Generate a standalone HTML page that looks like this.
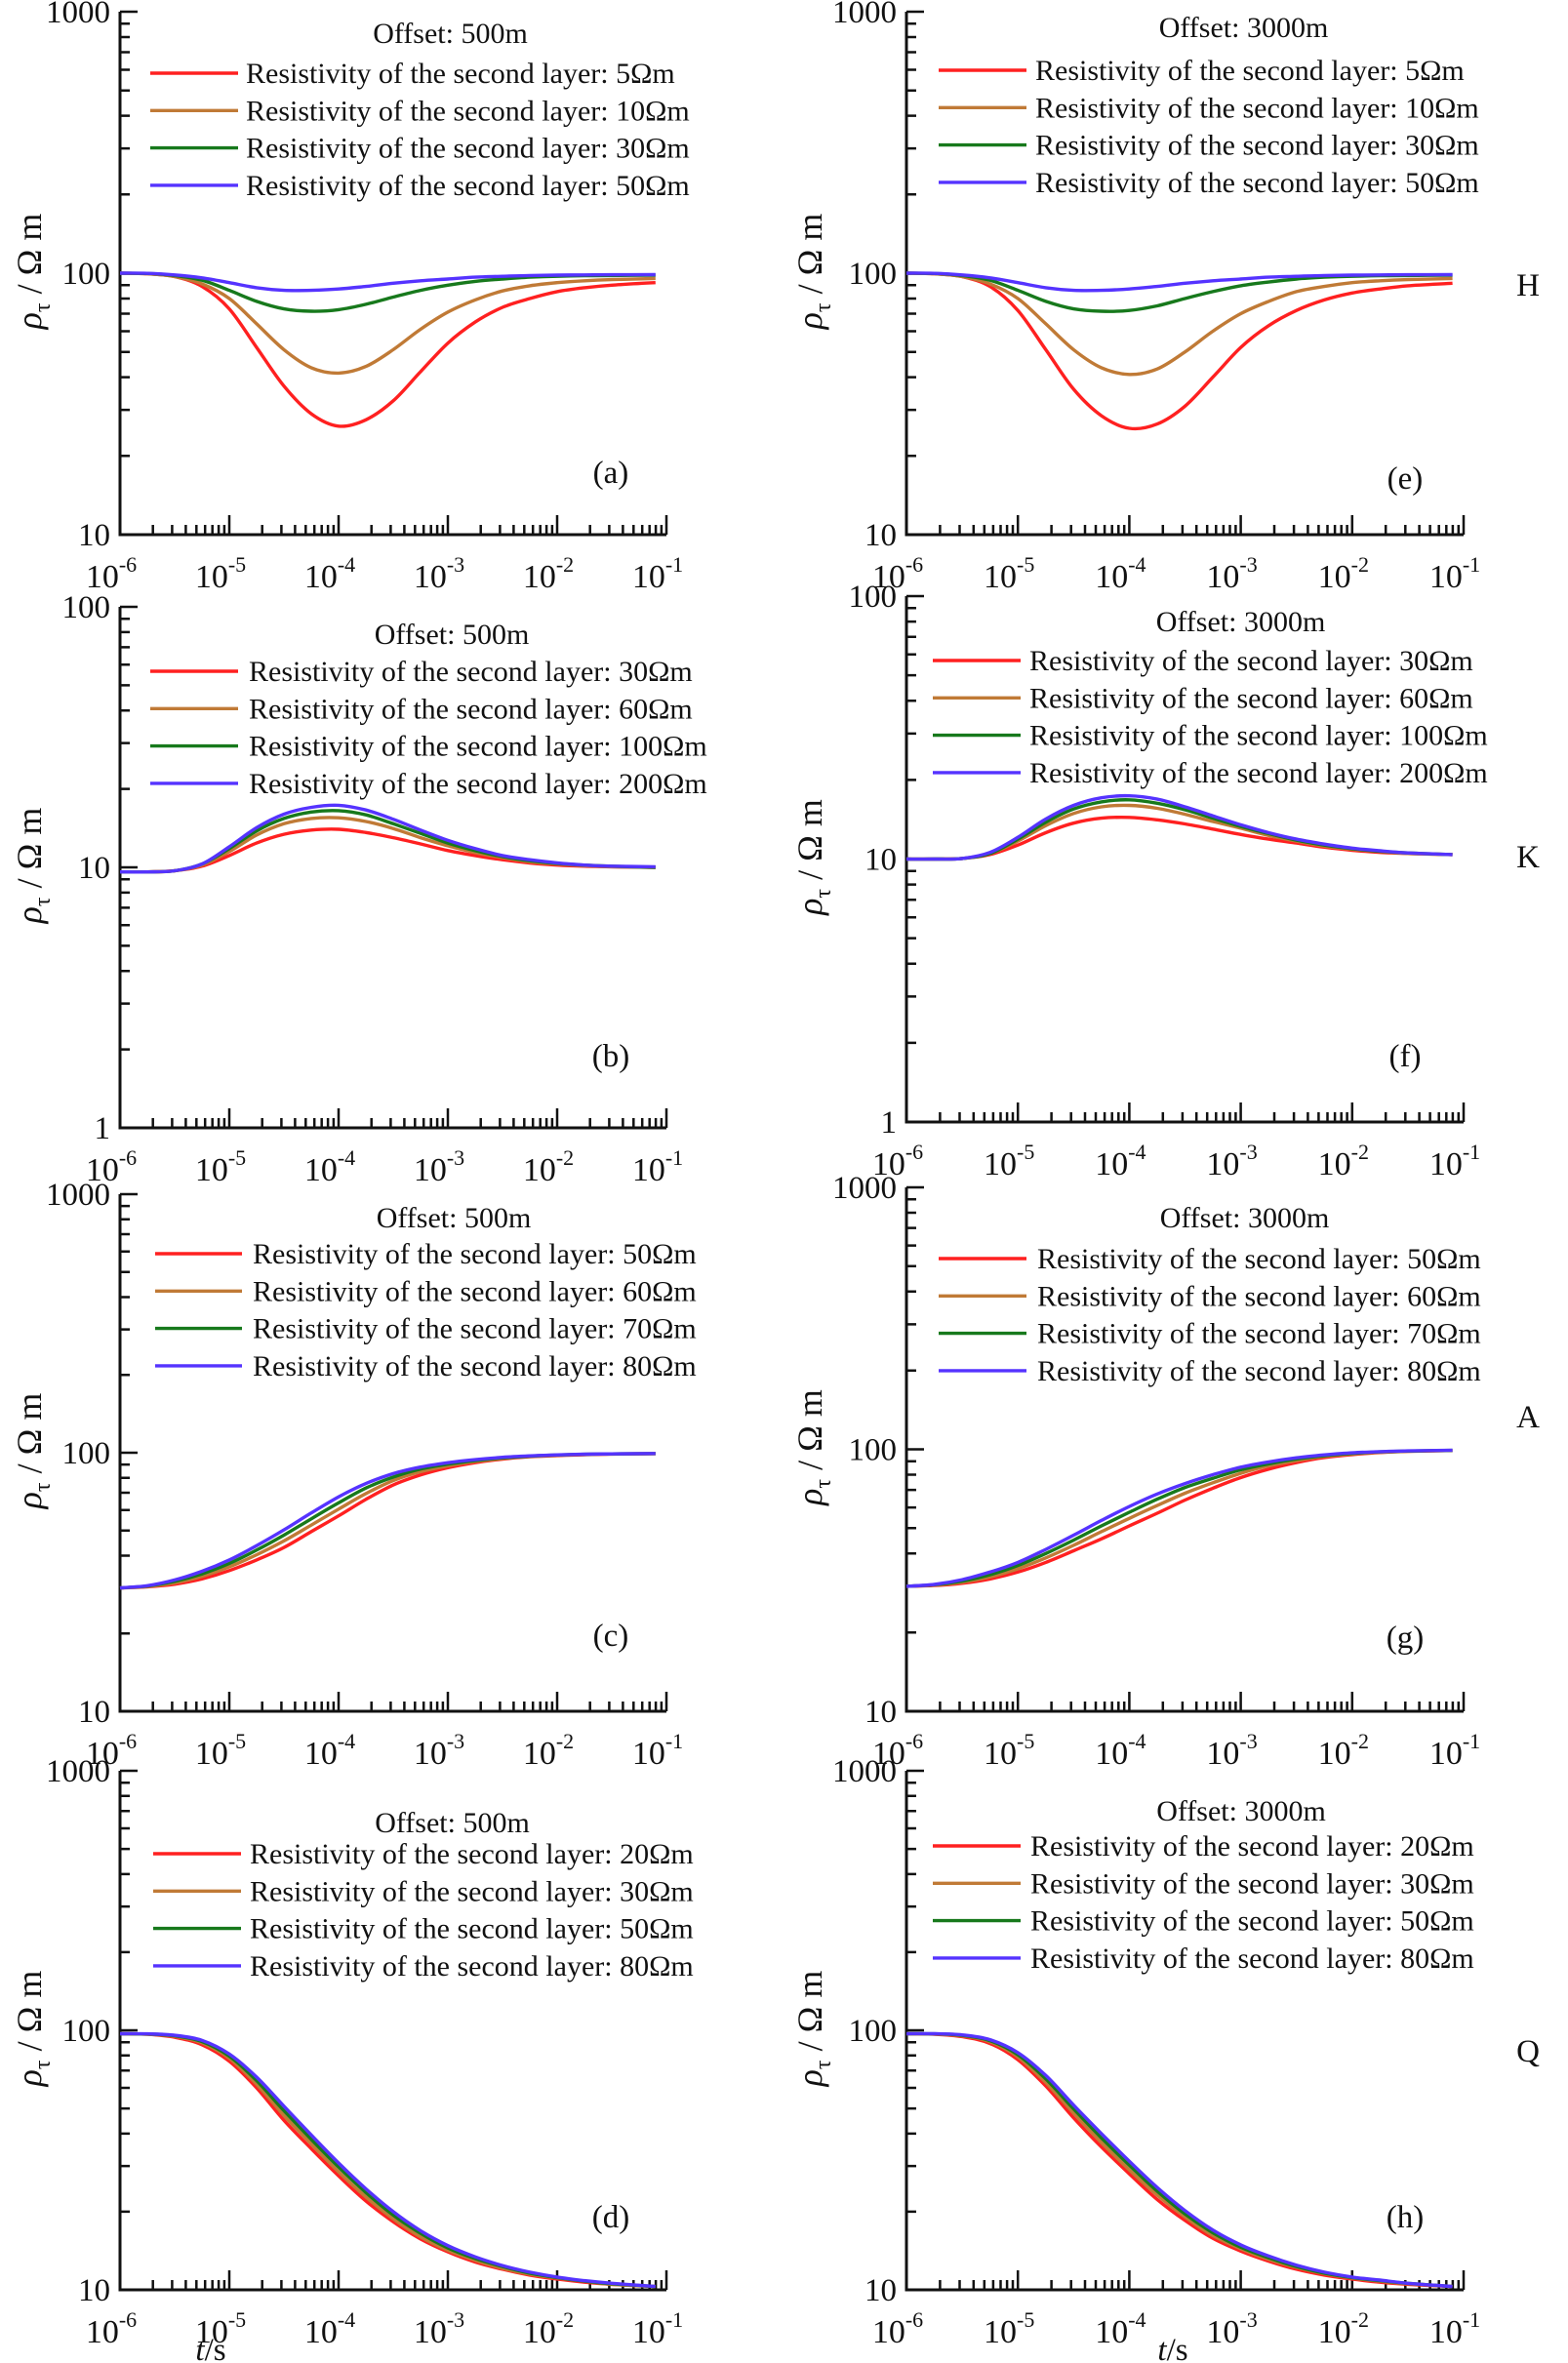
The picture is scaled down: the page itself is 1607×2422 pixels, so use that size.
<!DOCTYPE html>
<html><head><meta charset="utf-8">
<style>
html,body{margin:0;padding:0;background:#fff;}
svg{display:block;}
text{font-family:"Liberation Serif",serif;fill:#111;}
</style></head>
<body>
<svg id="fig" width="1607" height="2422" viewBox="0 0 1607 2422" xmlns="http://www.w3.org/2000/svg"></svg>
<script>
// ---- data ----
const tLog = [-6,-5.75,-5.5,-5.25,-5,-4.75,-4.5,-4.25,-4,-3.75,-3.5,-3.25,-3,-2.75,-2.5,-2.25,-2,-1.75,-1.5,-1.1];
const xTickLabels = ["-6","-5","-4","-3","-2","-1"];

const aLabels = ["5","10","30","50"];
const aRed   = [100,99.5,97,89,73,52,37,29,26,27.5,32.5,42,54,65,74,80,85,88,90,92];
const aBrown = [100,99.5,97,91,80,64,51,43.5,41.5,44,51,61,71,79,85.5,89.5,92,93.5,94.5,95.5];
const aGreen = [100,99.7,98,94,86,78,73,71.5,72.5,76,81,86,90,93,95,96.5,97.3,97.8,98,98.3];
const aBlue  = [100,99.8,98.5,96,92,88,86,86,87,89,91.5,93.5,95,96.5,97.3,98,98.3,98.5,98.6,98.7];

const eLabels = ["5","10","30","50"];
const eRed   = [100,99.5,97,89,72,51,36,28.5,25.5,26.5,31,40,52,63,72,79,84,87,89.5,91.5];
const eBrown = [100,99.5,97,91,80,64,51,43.5,41,43,50,60,70,78,85,89,92,93.5,94.5,95.5];
const eGreen = [100,99.7,98,94,86,78,73,71.5,72,75,80,85,89.5,92.5,95,96.5,97.3,97.8,98,98.3];
const eBlue  = [100,99.8,98.5,96,92,88,86,86,87,89,91.5,93.5,95,96.5,97.3,98,98.3,98.5,98.6,98.7];

const bLabels = ["30","60","100","200"];
const bRed   = [9.6,9.6,9.7,10.1,11.1,12.4,13.4,13.9,14,13.6,13,12.3,11.6,11.1,10.7,10.4,10.2,10.1,10.05,10];
const bBrown = [9.6,9.6,9.7,10.2,11.5,13.3,14.7,15.4,15.5,15,14.1,13,12.1,11.4,10.9,10.5,10.3,10.15,10.05,10];
const bGreen = [9.6,9.6,9.7,10.3,11.8,13.8,15.4,16.3,16.5,15.9,14.7,13.5,12.4,11.6,11,10.6,10.35,10.2,10.1,10];
const bBlue  = [9.6,9.6,9.7,10.3,12,14.2,16,17,17.3,16.6,15.3,13.9,12.7,11.8,11.1,10.7,10.4,10.2,10.1,10.05];

const fLabels = ["30","60","100","200"];
const fRed   = [10,10,10.05,10.4,11.3,12.6,13.7,14.3,14.4,14.1,13.6,13,12.4,11.9,11.5,11.1,10.8,10.6,10.5,10.4];
const fBrown = [10,10,10.05,10.5,11.7,13.4,14.9,15.8,16,15.6,14.8,13.9,13.1,12.3,11.7,11.2,10.9,10.7,10.5,10.4];
const fGreen = [10,10,10.05,10.5,11.9,13.8,15.5,16.5,16.8,16.3,15.4,14.3,13.3,12.5,11.8,11.3,10.95,10.7,10.55,10.4];
const fBlue  = [10,10,10.05,10.6,12.1,14.2,16,17.1,17.4,16.9,15.8,14.6,13.5,12.6,11.9,11.4,11,10.75,10.55,10.4];

const cLabels = ["50","60","70","80"];
const cRed   = [30,30.3,31,32.5,35,38.5,43,49.5,57,66,75,82,87.5,91.5,94.5,96.5,97.5,98.3,98.8,99.2];
const cBrown = [30,30.4,31.4,33.3,36.2,40.3,45.6,52.5,60.5,69.5,78,84.5,89,92.5,95,96.8,97.8,98.5,98.9,99.2];
const cGreen = [30,30.5,31.8,34,37.3,42,48,55.5,64,73,80.5,86.5,90.3,93.3,95.5,97,98,98.6,99,99.2];
const cBlue  = [30,30.6,32.2,34.8,38.5,43.7,50.3,58.5,67.5,76,83,88,91.5,94,96,97.3,98.1,98.7,99,99.3];

const gLabels = ["50","60","70","80"];
const gRed   = [30,30.2,30.8,32,34,37,41,45.5,51,57,64,71,78,84,89,93,95.5,97.2,98.2,99];
const gBrown = [30,30.3,31.1,32.6,35,38.5,43,48.5,54.5,61,68,74.5,81,86.5,90.5,94,96,97.5,98.4,99];
const gGreen = [30,30.4,31.4,33.2,36,40,45,51,57.5,64.5,71.5,77.5,83.5,88,91.8,94.6,96.5,97.8,98.5,99.1];
const gBlue  = [30,30.5,31.8,34,37,41.5,47,53.5,60.5,67.5,74,80,85.5,89.5,92.8,95.2,97,98,98.6,99.2];

const dLabels = ["20","30","50","80"];
const dRed   = [97,96.5,94,88,76,60,45,35,27.5,22,18.3,15.7,14,12.8,12,11.4,11,10.7,10.5,10.3];
const dBrown = [97,96.7,94.8,89.5,78,62,47,36.5,28.5,22.8,18.8,16,14.2,13,12.1,11.5,11.1,10.8,10.5,10.3];
const dGreen = [97,96.8,95.3,90.5,79.5,64,49,38,29.7,23.7,19.4,16.5,14.5,13.2,12.3,11.6,11.15,10.8,10.55,10.3];
const dBlue  = [97,96.9,95.7,91.5,81,66,51,39.5,30.8,24.5,20,16.9,14.8,13.4,12.4,11.7,11.2,10.85,10.6,10.3];

const hLabels = ["20","30","50","80"];
const hRed   = [97,96.6,94.5,89,77,61,46,35.5,28,22.3,18.5,15.8,14.1,12.9,12,11.4,11,10.7,10.5,10.3];
const hBrown = [97,96.8,95.2,90.3,79,63,48,37,29,23.2,19.1,16.2,14.4,13.1,12.2,11.55,11.1,10.8,10.55,10.3];
const hGreen = [97,96.9,95.6,91.2,80.5,65,49.8,38.5,30.2,24,19.6,16.6,14.6,13.3,12.3,11.6,11.15,10.85,10.6,10.3];
const hBlue  = [97,97,96,92,82,67,51.5,40,31.3,24.8,20.2,17,14.9,13.5,12.45,11.7,11.2,10.9,10.6,10.3];

const colors = ["#ff2020","#c07a36","#17791c","#5533ff"];

const panels = [
 {id:"a",x0:123,x1:683,top:12,bot:548,ylo:1,yhi:3,off:"500m",labs:aLabels,ser:[aRed,aBrown,aGreen,aBlue],oy:34,ry:75,lx0:154,lx1:244,tx:252,px:626,py:484,ytx:30},
 {id:"e",x0:929,x1:1500,top:12,bot:548,ylo:1,yhi:3,off:"3000m",labs:eLabels,ser:[eRed,eBrown,eGreen,eBlue],oy:28,ry:72,lx0:962,lx1:1052,tx:1061,px:1440,py:490,ytx:830,side:"H",sy:292},
 {id:"b",x0:123,x1:683,top:622,bot:1156,ylo:0,yhi:2,off:"500m",labs:bLabels,ser:[bRed,bBrown,bGreen,bBlue],oy:650,ry:688,lx0:154,lx1:244,tx:255,px:626,py:1082,ytx:30},
 {id:"f",x0:929,x1:1500,top:611,bot:1150,ylo:0,yhi:2,off:"3000m",labs:fLabels,ser:[fRed,fBrown,fGreen,fBlue],oy:637,ry:677,lx0:956,lx1:1046,tx:1055,px:1440,py:1082,ytx:830,side:"K",sy:878},
 {id:"c",x0:123,x1:683,top:1224,bot:1754,ylo:1,yhi:3,off:"500m",labs:cLabels,ser:[cRed,cBrown,cGreen,cBlue],oy:1248,ry:1285,lx0:159,lx1:248,tx:259,px:626,py:1676,ytx:30},
 {id:"g",x0:929,x1:1500,top:1217,bot:1754,ylo:1,yhi:3,off:"3000m",labs:gLabels,ser:[gRed,gBrown,gGreen,gBlue],oy:1248,ry:1290,lx0:962,lx1:1052,tx:1063,px:1440,py:1678,ytx:830,side:"A",sy:1452},
 {id:"d",x0:123,x1:683,top:1815,bot:2347,ylo:1,yhi:3,off:"500m",labs:dLabels,ser:[dRed,dBrown,dGreen,dBlue],oy:1868,ry:1900,lx0:157,lx1:247,tx:256,px:626,py:2272,ytx:30},
 {id:"h",x0:929,x1:1500,top:1815,bot:2347,ylo:1,yhi:3,off:"3000m",labs:hLabels,ser:[hRed,hBrown,hGreen,hBlue],oy:1856,ry:1892,lx0:956,lx1:1046,tx:1056,px:1440,py:2272,ytx:830,side:"Q",sy:2102}
];

const NS="http://www.w3.org/2000/svg";
const svg=document.getElementById('fig');
function mk(tag,attrs,parent){const e=document.createElementNS(NS,tag);for(const k in attrs)e.setAttribute(k,attrs[k]);(parent||svg).appendChild(e);return e;}

panels.forEach(p=>{
  const g=mk('g',{});
  
  
  const xs=v=>p.x0+(v+6)/5*(p.x1-p.x0);
  const ys=v=>p.bot-(Math.log10(v)-p.ylo)/(p.yhi-p.ylo)*(p.bot-p.top);
  const ax=mk('path',{d:`M${p.x0},${p.top}V${p.bot}H${p.x1}`,stroke:'#111','stroke-width':3,fill:'none'},g);
  
  
  let td='';
  for(let d=-6;d<-1;d++){for(let k=1;k<=10;k++){const v=d+Math.log10(k);const x=xs(v);const L=(k===1||k===10)?20:10;td+=`M${x.toFixed(1)},${p.bot}v${-L}`;}}
  for(let d=p.ylo;d<p.yhi;d++){for(let k=1;k<=10;k++){const y=ys(k*Math.pow(10,d));const L=(k===1||k===10)?18:10;td+=`M${p.x0},${y.toFixed(1)}h${L}`;}}
  const tk=mk('path',{d:td,stroke:'#111','stroke-width':2.5,fill:'none'},g);
  
  
  xTickLabels.forEach((l,i)=>{
    const t=mk('text',{x:xs(-6+i)-9,y:p.bot+54,'font-size':34,'text-anchor':'middle'},g);
    
    
    t.appendChild(document.createTextNode('10'));
    const s=mk('tspan',{'font-size':22,dy:-16},t);s.textContent=l;
  });
  for(let d=p.ylo;d<=p.yhi;d++){
    const t=mk('text',{x:p.x0-10,y:ys(Math.pow(10,d))+11,'font-size':33,'text-anchor':'end'},g);
    
    
    t.textContent=String(Math.pow(10,d));
  }
  const ymid=ys(Math.pow(10,p.ylo+1))-2;
  const yt=mk('text',{x:0,y:0,'font-size':36,transform:`translate(${p.ytx+12},${ymid}) rotate(-90)`,'text-anchor':'middle'},g);
  
  
  const r=mk('tspan',{'font-style':'italic'},yt);r.textContent='ρ';
  const sub=mk('tspan',{'font-size':24,dy:9},yt);sub.textContent='τ';
  const rest=mk('tspan',{dy:-9},yt);rest.textContent=' / Ω m';
  p.ser.forEach((vals,si)=>{
    const pts=tLog.map((t,i)=>[xs(t),ys(vals[i])]);
    let d=`M${pts[0][0].toFixed(1)},${pts[0][1].toFixed(1)}`;
    for(let i=0;i<pts.length-1;i++){
      const p0=pts[Math.max(0,i-1)],p1=pts[i],p2=pts[i+1],p3=pts[Math.min(pts.length-1,i+2)];
      const c1=[p1[0]+(p2[0]-p0[0])/6,p1[1]+(p2[1]-p0[1])/6];
      const c2=[p2[0]-(p3[0]-p1[0])/6,p2[1]-(p3[1]-p1[1])/6];
      d+=`C${c1[0].toFixed(1)},${c1[1].toFixed(1)} ${c2[0].toFixed(1)},${c2[1].toFixed(1)} ${p2[0].toFixed(1)},${p2[1].toFixed(1)}`;
    }
    const path=mk('path',{d:d,stroke:colors[si],'stroke-width':3.4,fill:'none'},g);
    
    
  });
  const ot=mk('text',{x:(p.tx+p.x1)/2-6,y:p.oy+10,'font-size':30,'text-anchor':'middle'},g);
  
  
  ot.textContent='Offset: '+p.off;
  p.labs.forEach((l,i)=>{
    const y=p.ry+i*38.3;
    const ln=mk('line',{x1:p.lx0,x2:p.lx1,y1:y,y2:y,stroke:colors[i],'stroke-width':3.4},g);
    
    
    const lt=mk('text',{x:p.tx,y:y+10,'font-size':30},g);
    
    
    lt.textContent='Resistivity of the second layer: '+l+'Ωm';
  });
  const pl=mk('text',{x:p.px,y:p.py+11,'font-size':33,'text-anchor':'middle'},g);
  
  
  pl.textContent='('+p.id+')';
  if(p.side){
    const s=mk('text',{x:1566,y:p.sy+11,'font-size':33,'text-anchor':'middle'},g);
    
    
    s.textContent=p.side;
  }
  if(p.id==='d'||p.id==='h'){
    const xt=mk('text',{x:(p.id==='d'?216:1202),y:2419,'font-size':33,'text-anchor':'middle'},g);
    
    
    const it=mk('tspan',{'font-style':'italic'},xt);it.textContent='t';
    const rs=mk('tspan',{},xt);rs.textContent='/s';
  }
});
</script>
</body></html>
